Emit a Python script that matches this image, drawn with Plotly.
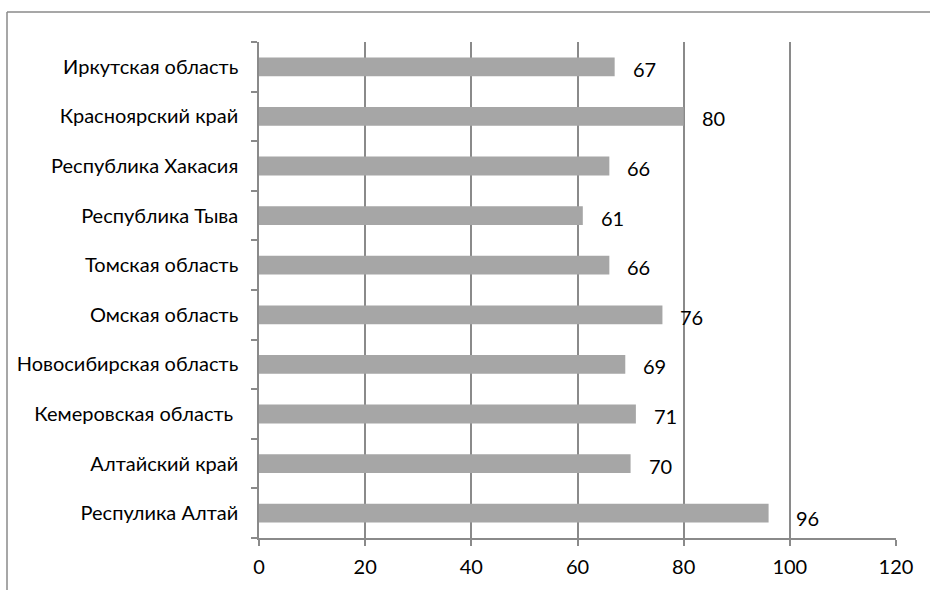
import plotly.graph_objects as go

# Regions listed bottom-to-top as they appear on the category axis
regions = [
    "Респулика Алтай",
    "Алтайский край",
    "Кемеровская область\u00a0",
    "Новосибирская область",
    "Омская область",
    "Томская область",
    "Республика Тыва",
    "Республика Хакасия",
    "Красноярский край",
    "Иркутская область",
]
values = [96, 70, 71, 69, 76, 66, 61, 66, 80, 67]

x_ticks = [0, 20, 40, 60, 80, 100, 120]

FONT = "Lato"
FSIZE = 20
GRID = "#8a8a8a"
BAR = "#a6a6a6"

fig = go.Figure(
    go.Bar(
        x=values,
        y=regions,
        orientation="h",
        marker=dict(color=BAR, line=dict(width=0)),
        hoverinfo="x+y",
    )
)

# value labels to the right of each bar
for reg, val in zip(regions, values):
    shift_x, shift_y = (25, -5) if val == max(values) else (16, -2)
    fig.add_annotation(
        x=val, y=reg, text=str(val), showarrow=False,
        xanchor="left", yanchor="middle", xshift=shift_x, yshift=shift_y,
        font=dict(family=FONT, size=FSIZE, color="#000000"),
    )

# chart frame: top and left edges
fig.add_shape(type="line", xref="paper", yref="paper",
              x0=-0.3956, x1=1.06, y0=1.0605, y1=1.0605,
              line=dict(color=GRID, width=1.5))
fig.add_shape(type="line", xref="paper", yref="paper",
              x0=-0.3956, x1=-0.3956, y0=1.0605, y1=-0.12,
              line=dict(color=GRID, width=1.5))

fig.update_layout(
    width=930, height=590,
    margin=dict(l=259, r=34, t=42, b=52),
    paper_bgcolor="white", plot_bgcolor="white",
    bargap=0.62,
    showlegend=False,
    font=dict(family=FONT, size=FSIZE, color="#000000"),
    xaxis=dict(
        range=[0, 120], tickvals=x_ticks, ticktext=[str(v) for v in x_ticks],
        showgrid=True, gridcolor=GRID, gridwidth=1.5,
        showline=True, linecolor=GRID, linewidth=1.5,
        ticks="outside", ticklen=6, tickcolor=GRID, tickwidth=1.5,
        ticklabelstandoff=4,
        zeroline=False, fixedrange=True,
        tickfont=dict(family=FONT, size=FSIZE),
    ),
    yaxis=dict(
        type="category", categoryorder="array", categoryarray=regions,
        showgrid=False, showline=True, linecolor=GRID, linewidth=1.5,
        ticks="outside", ticklen=6, tickcolor=GRID, tickwidth=1.5,
        tickson="boundaries", ticklabelstandoff=15,
        tickfont=dict(family=FONT, size=FSIZE), fixedrange=True,
    ),
)

fig.write_html("out.html", config={"displayModeBar": False})
